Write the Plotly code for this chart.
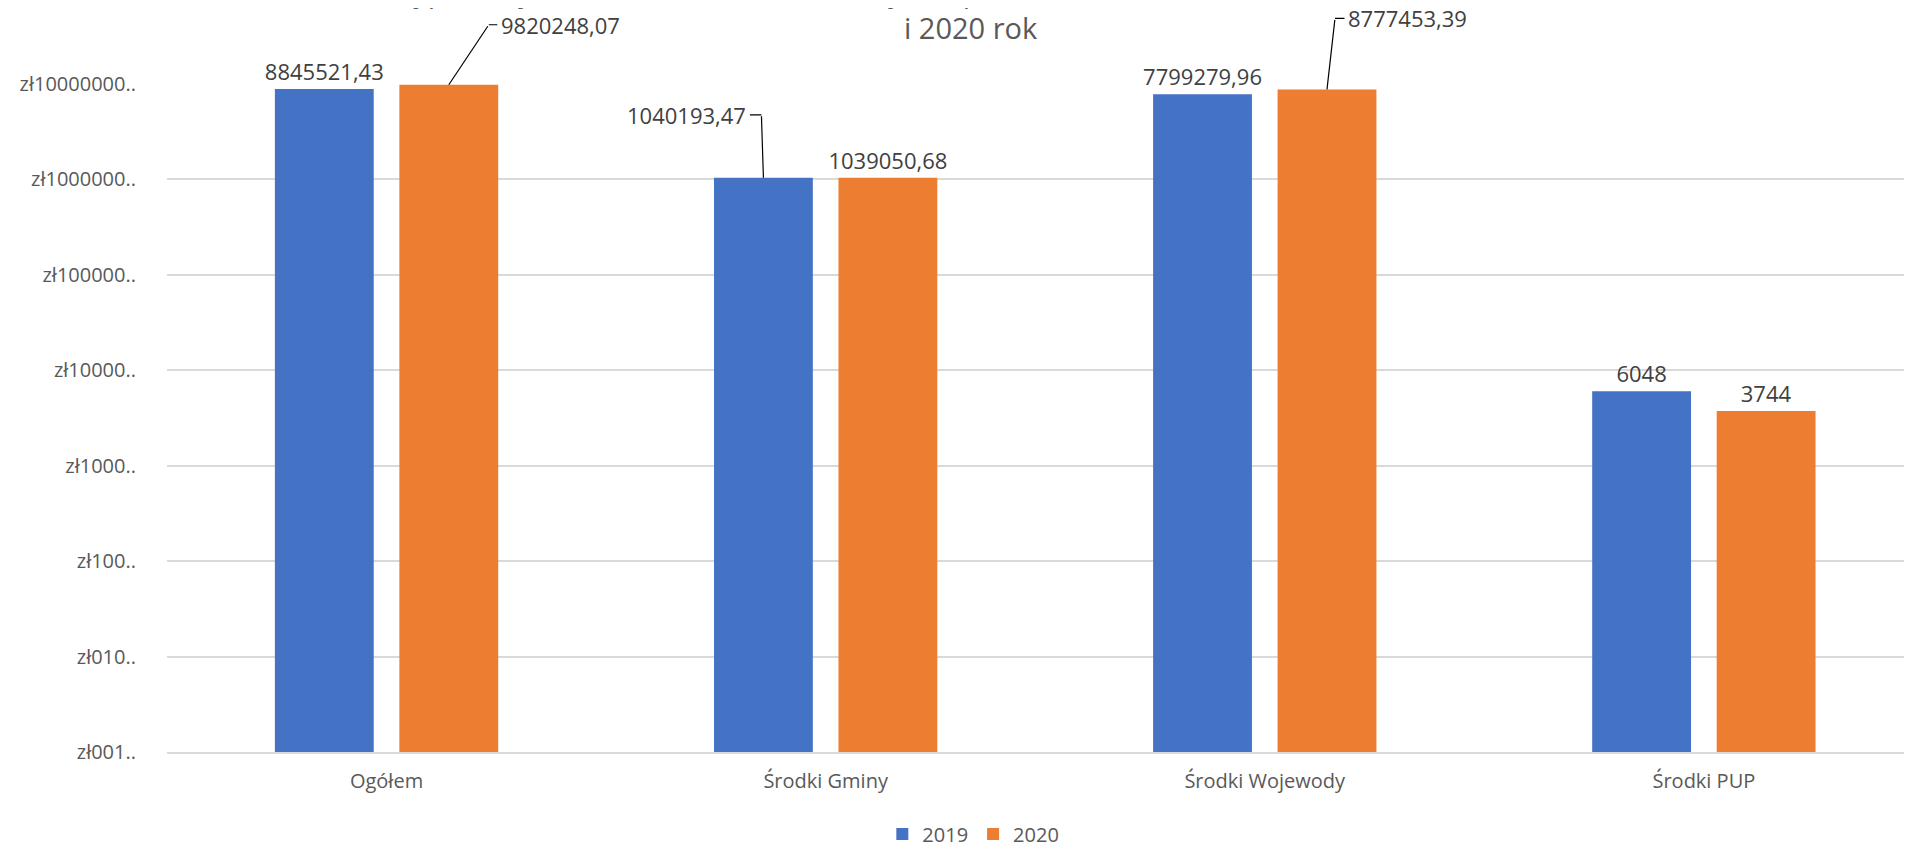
import math
import plotly.graph_objects as go

categories = ["Ogółem", "Środki Gminy", "Środki Wojewody", "Środki PUP"]
values_2019 = [8845521.43, 1040193.47, 7799279.96, 6048]
values_2020 = [9820248.07, 1039050.68, 8777453.39, 3744]
series_names = ["2019", "2020"]
tick_vals = [1, 10, 100, 1000, 10000, 100000, 1000000, 10000000]
tick_text = ["zł001..", "zł010..", "zł100..", "zł1000..", "zł10000..",
             "zł100000..", "zł1000000..", "zł10000000.."]
title_line1 = "Kwota wypłaconych dodatków mieszkaniowych z podziałem na źródła finansowania za 2019"
title_line2 = "i 2020 rok"

BLUE = "#4472C4"
ORANGE = "#ED7D31"
FONT = "Open Sans"
LABEL_COLOR = "#404040"
AXIS_COLOR = "#595959"
LABEL_SIZE = 22

W, H = 1904, 839
ML, MR, MT, MB = 159, 0, 76, 95
PH = H - MT - MB


def fmt(v):
    if float(v).is_integer():
        return str(int(v))
    return f"{v:.2f}".replace(".", ",")


# labels drawn with elbow leader lines: (series, category) -> (elbow dx, elbow dy, horizontal run)
leader = {("2019", 1): (-2, -63, -13), ("2020", 0): (40, -60, 10), ("2020", 2): (8, -71, 11)}

BARGAP = 0.433
BARGROUPGAP = 0.206
slot = (1 - BARGAP) / 2
xpos = list(range(len(categories)))

fig = go.Figure()
for name, vals, color in [("2019", values_2019, BLUE), ("2020", values_2020, ORANGE)]:
    texts = ["" if (name, i) in leader else fmt(v) for i, v in enumerate(vals)]
    fig.add_trace(go.Bar(
        x=xpos, y=vals, name=name, marker_color=color, marker_line_width=0,
        text=texts, textposition="outside", cliponaxis=False, constraintext="none",
        textfont=dict(family=FONT, size=LABEL_SIZE, color=LABEL_COLOR),
    ))

annotations = []
line_style = dict(showarrow=True, arrowhead=0, arrowwidth=1.2, arrowcolor="#000000",
                  standoff=0, startstandoff=0, text="")
for (name, i), (edx, edy, run) in leader.items():
    vals = values_2019 if name == "2019" else values_2020
    bx = i + (-slot / 2 if name == "2019" else slot / 2)
    by = math.log10(vals[i])
    # slanted part: bar top -> elbow
    annotations.append(dict(x=bx, y=by, xref="x", yref="y", ax=edx, ay=edy, **line_style))
    # horizontal part: elbow -> label
    annotations.append(dict(x=bx, y=by, xref="x", yref="y", xshift=edx, yshift=-edy,
                            ax=run, ay=0, **line_style))
    annotations.append(dict(
        x=bx, y=by, xref="x", yref="y", text=fmt(vals[i]), showarrow=False,
        xanchor="left" if run > 0 else "right", yanchor="middle",
        xshift=edx + run, yshift=-edy,
        font=dict(family=FONT, size=LABEL_SIZE, color=LABEL_COLOR),
    ))

title_y = 1 + 57 / PH
annotations.append(dict(
    x=0.461, y=title_y, xref="paper", yref="paper", text=title_line2,
    showarrow=False, xanchor="center", yanchor="middle",
    font=dict(family=FONT, size=29, color=AXIS_COLOR),
))
annotations.append(dict(
    x=0.43, y=title_y + 36 / PH, xref="paper", yref="paper", text=title_line1,
    showarrow=False, xanchor="center", yanchor="middle",
    font=dict(family=FONT, size=29, color=AXIS_COLOR),
))

fig.update_layout(
    width=W, height=H,
    margin=dict(l=ML, r=MR, t=MT, b=MB),
    paper_bgcolor="white", plot_bgcolor="white",
    barmode="group", bargap=BARGAP, bargroupgap=BARGROUPGAP,
    showlegend=True,
    legend=dict(orientation="h", xref="container", yref="container",
                x=0.507, xanchor="center", y=13 / H, yanchor="middle",
                font=dict(family=FONT, size=20, color=AXIS_COLOR),
                itemwidth=30, traceorder="normal"),
    annotations=annotations,
    font=dict(family=FONT, color=AXIS_COLOR),
)
fig.update_xaxes(
    range=[-0.5, 3.474], tickvals=xpos, ticktext=categories,
    showgrid=False, showline=True, linecolor="#d9d9d9", linewidth=1.5, zeroline=False,
    ticks="", tickfont=dict(family=FONT, size=20, color=AXIS_COLOR), ticklabelstandoff=10,
)
fig.update_yaxes(
    type="log", range=[0, 7], tickvals=tick_vals, ticktext=tick_text,
    showgrid=True, gridcolor="#d9d9d9", gridwidth=1.5, zeroline=False, showline=False,
    ticks="", tickfont=dict(family=FONT, size=20, color=AXIS_COLOR), ticklabelstandoff=30,
)

fig.write_html("out.html")
